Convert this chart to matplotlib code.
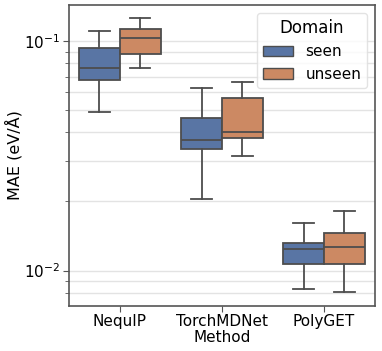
import matplotlib
matplotlib.use("Agg")
import matplotlib.pyplot as plt
from matplotlib.patches import Patch

# data (box stats per method / domain)
methods = ["NequIP", "TorchMDNet", "PolyGET"]
domains = ["seen", "unseen"]
colors = ["#5975a4", "#cc8963"]

seen_whislo = [0.0493, 0.0206, 0.00834]
seen_q1 = [0.0678, 0.0337, 0.01073]
seen_med = [0.0762, 0.0371, 0.01244]
seen_q3 = [0.0929, 0.0463, 0.01325]
seen_whishi = [0.1106, 0.0623, 0.01616]

unseen_whislo = [0.0760, 0.0317, 0.00807]
unseen_q1 = [0.0875, 0.0379, 0.01073]
unseen_med = [0.1031, 0.0401, 0.01265]
unseen_q3 = [0.1133, 0.0566, 0.01451]
unseen_whishi = [0.1260, 0.0660, 0.01817]

series = {
    "seen": (seen_whislo, seen_q1, seen_med, seen_q3, seen_whishi),
    "unseen": (unseen_whislo, unseen_q1, unseen_med, unseen_q3, unseen_whishi),
}

plt.rcParams['font.family'] = ['DejaVu Sans']
plt.rcParams['font.size'] = 11

fig = plt.figure(figsize=(3.82, 3.51), dpi=100)
ax = fig.add_axes([0.18, 0.129, 0.802, 0.857])

line_col = "#4d4d4d"
width = 0.4
for k, dom in enumerate(domains):
    lo, q1, med, q3, hi = series[dom]
    stats = []
    for i in range(len(methods)):
        stats.append(dict(whislo=lo[i], q1=q1[i], med=med[i], q3=q3[i],
                          whishi=hi[i], fliers=[]))
    pos = [i + (k - 0.5) * width for i in range(len(methods))]
    ax.bxp(stats, positions=pos, widths=width, patch_artist=True,
           showfliers=False,
           boxprops=dict(facecolor=colors[k], edgecolor=line_col, linewidth=1.3),
           medianprops=dict(color=line_col, linewidth=1.3),
           whiskerprops=dict(color=line_col, linewidth=1.3),
           capprops=dict(color=line_col, linewidth=1.3),
           manage_ticks=False, zorder=3)

ax.set_yscale("log")
ax.set_ylim(0.00703, 0.1436)
ax.set_xlim(-0.5, 2.5)
ax.set_xticks(range(len(methods)))
ax.set_xticklabels(methods)
ax.set_xlabel("Method", labelpad=1)
ax.set_ylabel("MAE (eV/Å)", fontsize=11.5)
ax.yaxis.set_label_coords(-0.152, 0.5)

ax.grid(which="both", axis="y", color="#e3e3e3", linewidth=1, zorder=0)
ax.set_axisbelow(True)
for s in ax.spines.values():
    s.set_color("#555555")
    s.set_linewidth(1.2)
ax.tick_params(axis="both", which="major", length=4, color="#555555", pad=2)
ax.tick_params(axis="y", which="minor", length=3, color="#555555")
ax.tick_params(axis="x", which="minor", length=0)

handles = [Patch(facecolor=colors[k], edgecolor=line_col, label=d)
           for k, d in enumerate(domains)]
leg = ax.legend(handles=handles, title="Domain", loc="upper right",
                fontsize=11, title_fontsize=12, frameon=True,
                borderaxespad=0.5, handlelength=2.0)
leg.get_frame().set_edgecolor("#dddddd")

fig.savefig("out.png", dpi=100)
